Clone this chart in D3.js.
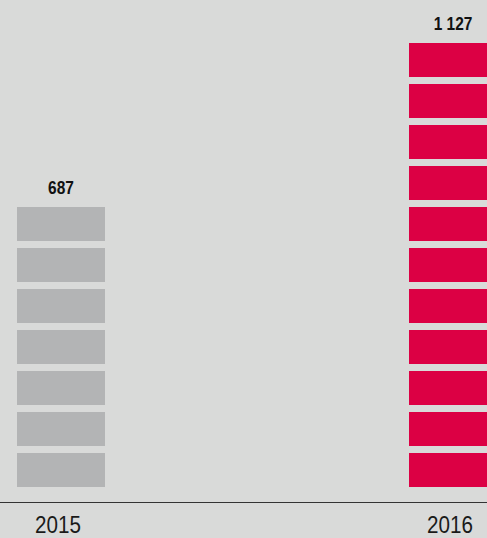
<!DOCTYPE html>
<html>
<head>
<meta charset="utf-8">
<script src="https://cdn.jsdelivr.net/npm/d3@7"></script>
<style>
  html, body { margin: 0; padding: 0; background: #d9dad9; }
  svg { display: block; }
  text { font-family: "Liberation Sans Narrow", "Arial Narrow", "Liberation Sans", Arial, sans-serif; }
</style>
</head>
<body>
<svg id="chart" width="487" height="538"></svg>
<script>
// Yearly totals, drawn as stacked blocks of 100 units each
const years = ["2015", "2016"];
const values = [687, 1127];
const colors = ["#b3b4b5", "#dc0044"];
const blockUnit = 100;
const valueLabels = ["687", "1 127"];

const width = 487, height = 538;
const baseY = 487;      // bottom of the block stacks
const axisY = 502.5;    // baseline rule
const blockPitch = 41;  // one block plus the gap above it
const blockGap = 7;
const narrow = 0.86;    // horizontal squeeze for a condensed look

const svg = d3.select("#chart");

svg.append("rect")
  .attr("width", width).attr("height", height)
  .attr("fill", "#d9dad9");

const x = d3.scaleBand()
  .domain(years)
  .range([17, 497])
  .paddingInner(304 / 392)
  .paddingOuter(0);

const maxBlocks = d3.max(values, v => Math.round(v / blockUnit));
const y = d3.scaleLinear()
  .domain([0, maxBlocks * blockUnit])
  .range([baseY, baseY - maxBlocks * blockPitch]);

const data = years.map((yr, i) => ({
  year: yr,
  value: values[i],
  label: valueLabels[i],
  color: colors[i],
  blocks: d3.range(Math.round(values[i] / blockUnit))
}));

const groups = svg.selectAll("g.bar")
  .data(data)
  .join("g")
  .attr("class", "bar");

groups.selectAll("rect")
  .data(d => d.blocks.map(b => ({ b, d })))
  .join("rect")
  .attr("x", o => x(o.d.year))
  .attr("width", x.bandwidth())
  .attr("y", o => y((o.b + 1) * blockUnit) + blockGap)
  .attr("height", o => y(o.b * blockUnit) - y((o.b + 1) * blockUnit) - blockGap)
  .attr("fill", o => o.d.color);

groups.append("text")
  .attr("transform", d =>
    `translate(${x(d.year) + x.bandwidth() / 2},${y(d.blocks.length * blockUnit) + blockGap - 13}) scale(${narrow},1)`)
  .attr("text-anchor", "middle")
  .attr("font-size", 18)
  .attr("font-weight", "bold")
  .attr("fill", "#111")
  .text(d => d.label);

// Baseline and year labels
const axis = d3.axisBottom(x).tickSize(0).tickPadding(0);
const axisG = svg.append("g")
  .attr("transform", `translate(0,${axisY})`)
  .call(axis);
axisG.select(".domain").remove();
axisG.append("line")
  .attr("x1", 0).attr("x2", width)
  .attr("stroke", "#333").attr("stroke-width", 1);
axisG.selectAll(".tick text")
  .attr("y", null)
  .attr("dy", null)
  .attr("transform", `translate(-3,30.5) scale(${narrow},1)`)
  .attr("font-size", 24)
  .attr("font-family", null)
  .attr("fill", "#1a1a1a");
</script>
</body>
</html>
